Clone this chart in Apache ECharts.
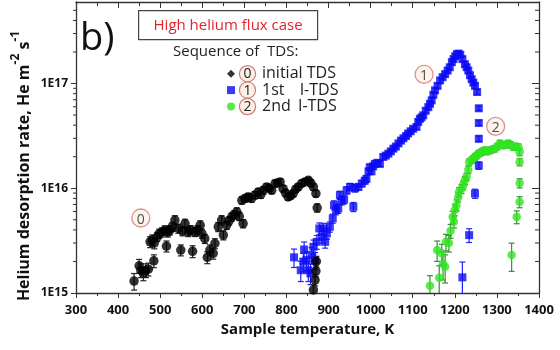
<!DOCTYPE html>
<html>
<head>
<meta charset="utf-8">
<script src="https://cdn.jsdelivr.net/npm/echarts@6/dist/echarts.min.js"></script>
<style>
  html, body { margin: 0; padding: 0; background: #fff; }
  #chart { width: 560px; height: 350px; }
</style>
</head>
<body>
<div id="chart"></div>
<script>
// Helium desorption rate vs sample temperature for three TDS runs.
// Each point: [temperature K, rate He m^-2 s^-1, relative error].
const seriesNames = ['initial TDS', '1st I-TDS', '2nd I-TDS'];

const initialTDS = [
  [438, 1.30e15, 0.18], [450, 1.82e15, 0.15], [454, 1.65e15, 0.15], [460, 1.54e15, 0.15],
  [466, 1.65e15, 0.15], [472, 1.69e15, 0.14], [476, 3.08e15, 0.12], [481, 3.2e15, 0.12],
  [485, 2.03e15, 0.14], [486, 3.0e15, 0.12], [493, 3.44e15, 0.1], [498, 3.7e15, 0.1],
  [504, 3.8e15, 0.1], [511, 3.98e15, 0.1], [515, 2.8e15, 0.12], [518, 3.8e15, 0.1],
  [523, 3.98e15, 0.1], [529, 4.3e15, 0.1], [535, 4.97e15, 0.1], [543, 4.13e15, 0.1],
  [549, 2.57e15, 0.12], [553, 3.9e15, 0.1], [559, 4.6e15, 0.1], [567, 3.84e15, 0.1],
  [572, 4.0e15, 0.1], [577, 2.5e15, 0.13], [583, 3.84e15, 0.1], [589, 4.0e15, 0.1],
  [595, 4.44e15, 0.1], [599, 3.7e15, 0.1], [606, 3.3e15, 0.1], [612, 2.19e15, 0.13],
  [618, 2.57e15, 0.12], [626, 2.39e15, 0.12], [630, 2.97e15, 0.11], [638, 4.28e15, 0.1],
  [646, 4.97e15, 0.1], [650, 3.57e15, 0.1], [658, 4.44e15, 0.09], [664, 4.9e15, 0.09],
  [670, 5.33e15, 0.09], [676, 5.6e15, 0.09], [682, 5.95e15, 0.09], [688, 5.4e15, 0.09],
  [694, 7.67e15, 0.08], [697, 4.6e15, 0.09], [702, 8.0e15, 0.08], [709, 8.27e15, 0.08],
  [717, 8.0e15, 0.08], [725, 8.6e15, 0.08], [733, 9.2e15, 0.08], [739, 8.7e15, 0.08],
  [745, 9.55e15, 0.08], [753, 1.03e16, 0.07], [759, 1.0e16, 0.07], [765, 9.55e15, 0.07],
  [773, 1.11e16, 0.07], [779, 1.12e16, 0.07], [785, 1.15e16, 0.07], [792, 9.9e15, 0.07],
  [798, 9.0e15, 0.07], [804, 8.27e15, 0.07], [810, 8.5e15, 0.07], [816, 8.9e15, 0.07],
  [822, 9.8e15, 0.07], [828, 1.03e16, 0.07], [836, 1.11e16, 0.07], [844, 1.15e16, 0.07],
  [852, 1.19e16, 0.07], [858, 1.12e16, 0.07], [864, 1.03e16, 0.07], [870, 8.9e15, 0.07],
  [873, 6.5e15, 0.09], [871, 2.0e15, 0.12], [870, 1.62e15, 0.12], [868, 1.33e15, 0.12],
  [864, 1.07e15, 0.12]
];

const firstITDS = [
  [818, 2.19e15, 0.2], [834, 1.65e15, 0.22], [840, 1.99e15, 0.2], [842, 2.6e15, 0.18],
  [848, 2.06e15, 0.2], [852, 1.65e15, 0.22], [857, 1.54e15, 0.22], [860, 2.3e15, 0.18],
  [864, 2.76e15, 0.16], [868, 2.06e15, 0.18], [872, 3.08e15, 0.15], [878, 4.13e15, 0.13],
  [884, 3.44e15, 0.13], [888, 4.13e15, 0.12], [892, 3.08e15, 0.13], [896, 3.7e15, 0.12],
  [903, 4.28e15, 0.11], [910, 5.15e15, 0.1], [913, 6.9e15, 0.1], [918, 6.2e15, 0.1],
  [923, 6.4e15, 0.1], [927, 8.6e15, 0.09], [931, 7.6e15, 0.09], [937, 7.8e15, 0.09],
  [943, 9.55e15, 0.08], [951, 1.03e16, 0.08], [959, 6.65e15, 0.1], [963, 1.0e16, 0.08],
  [971, 1.03e16, 0.07], [979, 1.11e16, 0.07], [986, 1.18e16, 0.07], [990, 1.23e16, 0.07],
  [995, 1.45e16, 0.06], [998, 1.59e16, 0.06], [1002, 1.45e16, 0.06], [1006, 1.62e16, 0.06],
  [1010, 1.71e16, 0.06], [1016, 1.75e16, 0.06], [1022, 1.71e16, 0.06], [1030, 1.99e16, 0.05],
  [1036, 2.05e16, 0.05], [1042, 2.14e16, 0.05], [1048, 2.25e16, 0.05], [1054, 2.39e16, 0.05],
  [1060, 2.5e16, 0.05], [1066, 2.68e16, 0.05], [1072, 2.85e16, 0.05], [1078, 3.0e16, 0.05],
  [1084, 3.15e16, 0.05], [1089, 3.33e16, 0.05], [1095, 3.5e16, 0.05], [1101, 3.7e16, 0.05],
  [1109, 3.85e16, 0.05], [1113, 4.3e16, 0.05], [1117, 4.6e16, 0.05], [1121, 4.75e16, 0.05],
  [1125, 4.97e16, 0.05], [1131, 5.5e16, 0.05], [1137, 5.95e16, 0.05], [1141, 6.4e16, 0.05],
  [1145, 6.9e16, 0.05], [1149, 7.8e16, 0.05], [1153, 8.6e16, 0.05], [1159, 9.5e16, 0.05],
  [1165, 1.07e17, 0.05], [1171, 1.15e17, 0.05], [1177, 1.23e17, 0.05], [1183, 1.33e17, 0.05],
  [1188, 1.43e17, 0.05], [1193, 1.6e17, 0.05], [1197, 1.71e17, 0.05], [1201, 1.82e17, 0.05],
  [1205, 1.91e17, 0.05], [1209, 1.93e17, 0.05], [1213, 1.88e17, 0.05], [1218, 1.71e17, 0.05],
  [1224, 1.53e17, 0.05], [1228, 1.43e17, 0.05], [1232, 1.33e17, 0.05], [1236, 1.2e17, 0.05],
  [1240, 1.10e17, 0.05], [1244, 1.02e17, 0.05], [1248, 9.5e16, 0.05], [1253, 8.3e16, 0.05],
  [1257, 5.8e16, 0.05], [1257, 4.2e16, 0.05], [1257, 2.97e16, 0.06], [1257, 1.65e16, 0.08],
  [1248, 8.9e15, 0.1], [1234, 3.57e15, 0.15], [1218, 1.41e15, 0.4]
];

const secondITDS = [
  [1141, 1.17e15, 0.25], [1158, 2.57e15, 0.22], [1163, 1.40e15, 0.3], [1169, 2.39e15, 0.22],
  [1172, 1.9e15, 0.3], [1177, 1.78e15, 0.3], [1179, 3.08e15, 0.18], [1186, 3.0e15, 0.18],
  [1190, 3.92e15, 0.15], [1195, 5.33e15, 0.13], [1198, 4.8e15, 0.13], [1200, 6.2e15, 0.12],
  [1204, 6.9e15, 0.12], [1208, 8.2e15, 0.1], [1210, 9.2e15, 0.1], [1216, 9.9e15, 0.1],
  [1220, 1.07e16, 0.09], [1224, 1.19e16, 0.09], [1228, 1.29e16, 0.08], [1232, 1.5e16, 0.08],
  [1234, 1.78e16, 0.07], [1240, 1.85e16, 0.07], [1244, 1.92e16, 0.07], [1248, 1.99e16, 0.07],
  [1252, 2.05e16, 0.07], [1256, 2.14e16, 0.07], [1260, 2.18e16, 0.07], [1264, 2.22e16, 0.07],
  [1268, 2.28e16, 0.07], [1272, 2.30e16, 0.07], [1277, 2.25e16, 0.07], [1283, 2.30e16, 0.07],
  [1289, 2.35e16, 0.07], [1295, 2.39e16, 0.07], [1301, 2.5e16, 0.07], [1307, 2.68e16, 0.07],
  [1311, 2.6e16, 0.07], [1315, 2.57e16, 0.07], [1321, 2.62e16, 0.07], [1327, 2.68e16, 0.07],
  [1333, 2.6e16, 0.07], [1339, 2.48e16, 0.07], [1345, 2.5e16, 0.07], [1351, 2.48e16, 0.07],
  [1354, 2.22e16, 0.08], [1354, 1.78e16, 0.08], [1354, 1.12e16, 0.1], [1354, 7.4e15, 0.12],
  [1347, 5.33e15, 0.14], [1335, 2.3e15, 0.3]
];

// Circled run numbers placed next to each curve: [T, rate, label]
const callouts = [[454, 5.2e15, '0'], [1127, 1.22e17, '1'], [1297, 3.9e16, '2']];

const xMin = 300, xMax = 1400, xStep = 100;
const yMin = 1e15, yMax = 6e17;

// log-axis minor tick positions (2..9 x 10^n)
const minorTickValues = [];
for (let e = 15; e <= 17; e++) {
  for (let m = 2; m <= 9; m++) {
    const v = m * Math.pow(10, e);
    if (v < yMax) minorTickValues.push([xMin, v]);
  }
}

const axisColor = '#333';
const fontFamily = '"Open Sans", "Noto Sans", sans-serif';

function errorBars(color) {
  return function (params, api) {
    const x = api.value(0), y = api.value(1), e = api.value(2);
    const lo = Math.max(y * (1 - e), yMin);
    const hi = Math.min(y * (1 + e), yMax);
    const pLo = api.coord([x, lo]);
    const pHi = api.coord([x, hi]);
    const w = 3;
    const st = { stroke: color, lineWidth: 1.2 };
    const children = [
      { type: 'line', shape: { x1: pLo[0], y1: pLo[1], x2: pHi[0], y2: pHi[1] }, style: st },
      { type: 'line', shape: { x1: pHi[0] - w, y1: pHi[1], x2: pHi[0] + w, y2: pHi[1] }, style: st }
    ];
    if (y * (1 - e) > yMin) {
      children.push({ type: 'line', shape: { x1: pLo[0] - w, y1: pLo[1], x2: pLo[0] + w, y2: pLo[1] }, style: st });
    }
    return { type: 'group', children: children };
  };
}

function minorTicks(params, api) {
  const v = api.value(1);
  const pl = api.coord([xMin, v]);
  const pr = api.coord([xMax, v]);
  const st = { stroke: axisColor, lineWidth: 1 };
  return {
    type: 'group',
    children: [
      { type: 'line', shape: { x1: pl[0] - 3, y1: pl[1], x2: pl[0], y2: pl[1] }, style: st },
      { type: 'line', shape: { x1: pr[0] - 4, y1: pr[1], x2: pr[0], y2: pr[1] }, style: st }
    ]
  };
}

const circleBadge = {
  width: 15, height: 14, lineHeight: 14, borderRadius: 8, align: 'center',
  borderColor: '#cf7c76', borderWidth: 1.2, backgroundColor: '#fdf1e7',
  color: '#222', fontSize: 14, fontFamily: fontFamily, padding: [1, 0, 0, 0]
};
const legendText = { fontSize: 16, color: '#222', fontFamily: fontFamily, lineHeight: 15 };

const chart = echarts.init(document.getElementById('chart'), null, { renderer: 'canvas' });

chart.setOption({
  animation: false,
  backgroundColor: '#fff',
  grid: { left: 76, right: 21, top: 2, bottom: 57 },
  xAxis: [
    {
      type: 'value', min: xMin, max: xMax, interval: xStep, position: 'bottom',
      axisLine: { lineStyle: { color: axisColor, width: 1.3 } },
      axisTick: { inside: false, length: 5, lineStyle: { color: axisColor } },
      minorTick: { show: true, splitNumber: 2, length: 3, lineStyle: { color: axisColor } },
      splitLine: { show: false },
      axisLabel: {
        margin: 11, color: '#111', fontWeight: 'bold', fontSize: 13, fontFamily: fontFamily,
        formatter: function (v) { return String(v); }
      },
      name: 'Sample temperature, K', nameLocation: 'middle', nameGap: 28,
      nameTextStyle: { color: '#111', fontWeight: 'bold', fontSize: 15, fontFamily: fontFamily }
    },
    {
      type: 'value', min: xMin, max: xMax, interval: xStep, position: 'top',
      axisLine: { lineStyle: { color: axisColor, width: 1.3 } },
      axisTick: { inside: true, length: 6, lineStyle: { color: axisColor } },
      minorTick: { show: true, splitNumber: 2, length: 4, lineStyle: { color: axisColor } },
      splitLine: { show: false },
      axisLabel: { show: false }
    }
  ],
  yAxis: [
    {
      type: 'log', logBase: 10, min: yMin, max: yMax, position: 'left',
      axisLine: { show: true, lineStyle: { color: axisColor, width: 1.3 } },
      axisTick: { show: true, inside: false, length: 5, lineStyle: { color: axisColor } },
      splitLine: { show: false },
      axisLabel: {
        margin: 8, color: '#111', fontWeight: 'bold', fontSize: 12, fontFamily: fontFamily,
        showMaxLabel: false,
        formatter: function (v) {
          const e = Math.log10(v);
          return Math.abs(e - Math.round(e)) < 1e-6 ? '1E' + Math.round(e) : '';
        }
      }
    },
    {
      type: 'log', logBase: 10, min: yMin, max: yMax, position: 'right',
      axisLine: { show: true, lineStyle: { color: axisColor, width: 1.3 } },
      axisTick: { show: true, inside: true, length: 7, lineStyle: { color: axisColor } },
      splitLine: { show: false },
      axisLabel: { show: false }
    }
  ],
  legend: {
    orient: 'vertical', left: 222, top: 60, itemWidth: 8, itemHeight: 8, itemGap: -1,
    selectedMode: false,
    data: [
      { name: seriesNames[0], icon: 'diamond' },
      { name: seriesNames[1], icon: 'rect' },
      { name: seriesNames[2], icon: 'circle' }
    ],
    formatter: function (name) {
      const i = seriesNames.indexOf(name);
      if (i === 0) return '{c|0}{p|initial TDS}';
      const parts = name.split(' ');
      return '{c|' + i + '}{p|' + parts[0] + '}{g' + i + '| }{t|' + parts[1] + '}';
    },
    textStyle: {
      fontFamily: fontFamily, fontSize: 16, color: '#222',
      rich: {
        c: circleBadge,
        t: legendText,
        p: Object.assign({}, legendText, { padding: [0, 0, 0, 7] }),
        g1: Object.assign({}, legendText, { padding: [0, 11, 0, 0] }),
        g2: Object.assign({}, legendText, { padding: [0, 3, 0, 0] })
      }
    }
  },
  graphic: [
    {
      type: 'text', left: 80, top: 20,
      style: { text: 'b)', fontSize: 38, fontFamily: fontFamily, fill: '#111' }
    },
    {
      type: 'group', left: 138, top: 10,
      children: [
        { type: 'rect', shape: { x: 0, y: 0, width: 179, height: 29 },
          style: { fill: '#fff', stroke: '#444', lineWidth: 1.2 } },
        { type: 'text', x: 89.5, y: 15,
          style: { text: 'High helium flux case', fontSize: 15, fontFamily: fontFamily,
                   fill: '#e3242b', align: 'center', verticalAlign: 'middle' } }
      ]
    },
    {
      type: 'text', left: 173, top: 44,
      style: { text: 'Sequence of  TDS:', fontSize: 15, fontFamily: fontFamily, fill: '#222' }
    },
    {
      type: 'text', x: 21, y: 166, rotation: Math.PI / 2,
      style: {
        text: '{n|Helium desorption rate, He m}{s|-2}{n| s}{s|-1}',
        align: 'center', verticalAlign: 'middle',
        rich: {
          n: { fontSize: 16, fontWeight: 'bold', fontFamily: fontFamily, fill: '#111', lineHeight: 22, verticalAlign: 'bottom' },
          s: { fontSize: 12, fontWeight: 'bold', fontFamily: fontFamily, fill: '#111', lineHeight: 13, verticalAlign: 'top' }
        }
      }
    }
  ],
  series: [
    {
      name: 'minorTicks', type: 'custom', xAxisIndex: 0, yAxisIndex: 0,
      data: minorTickValues, encode: { x: 0, y: 1 }, renderItem: minorTicks,
      silent: true, clip: false, z: 1
    },
    {
      name: 'err1', type: 'custom', data: firstITDS, encode: { x: 0, y: 1 },
      renderItem: errorBars('#2323ff'), silent: true, z: 2
    },
    {
      name: seriesNames[1], type: 'scatter', data: firstITDS, symbol: 'rect', symbolSize: 8,
      encode: { x: 0, y: 1 }, itemStyle: { color: '#0a0af5' }, z: 3
    },
    {
      name: 'err2', type: 'custom', data: secondITDS, encode: { x: 0, y: 1 },
      renderItem: errorBars('#3d8b35'), silent: true, z: 2
    },
    {
      name: seriesNames[2], type: 'scatter', data: secondITDS, symbol: 'circle', symbolSize: 8.5,
      encode: { x: 0, y: 1 }, itemStyle: { color: '#2fe51f' }, z: 3
    },
    {
      name: 'err0', type: 'custom', data: initialTDS, encode: { x: 0, y: 1 },
      renderItem: errorBars('#222'), silent: true, z: 4
    },
    {
      name: seriesNames[0], type: 'scatter', data: initialTDS, symbol: 'circle', symbolSize: 9.5,
      encode: { x: 0, y: 1 }, itemStyle: { color: '#000' }, z: 5
    },
    {
      name: 'callouts', type: 'scatter', data: callouts, symbol: 'circle', symbolSize: 18,
      encode: { x: 0, y: 1 }, silent: true, z: 6,
      itemStyle: { color: '#fdf1e7', borderColor: '#cf7c76', borderWidth: 1.3 },
      label: {
        show: true, position: 'inside', offset: [0, 2],
        formatter: function (p) { return p.data[2]; },
        color: '#222', fontSize: 14, fontFamily: fontFamily
      }
    }
  ]
});
</script>
</body>
</html>
